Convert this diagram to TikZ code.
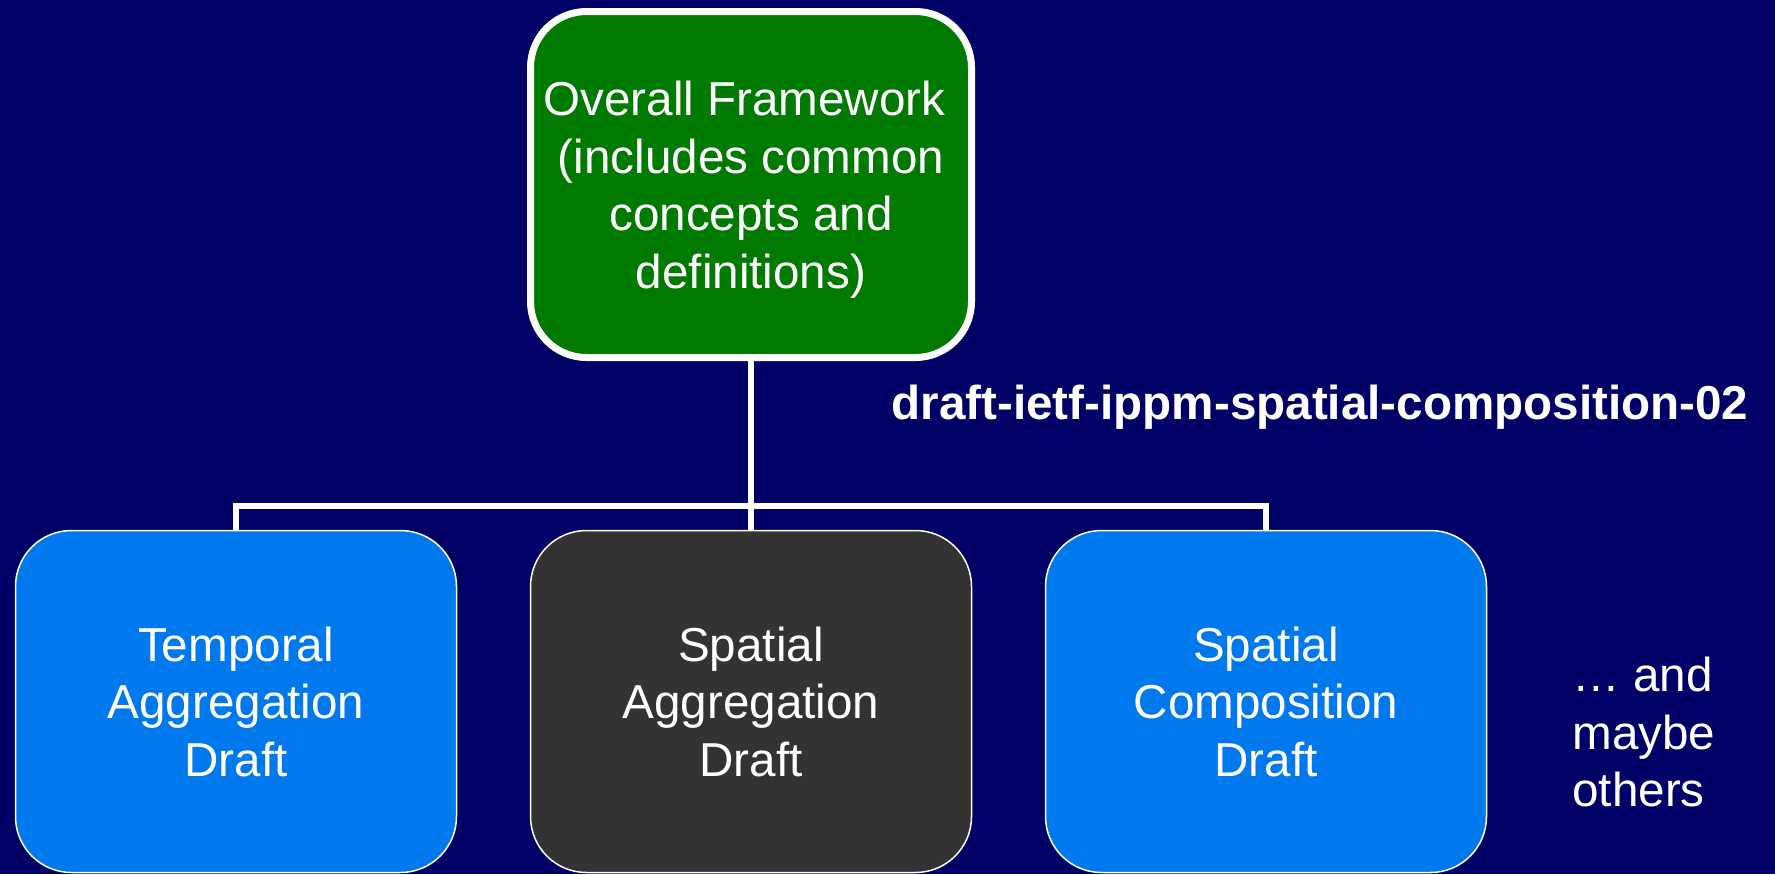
\documentclass[tikz,border=0pt]{standalone}
\usepackage{fontspec}
\setmainfont{Liberation Sans}
\definecolor{slidebg}{RGB}{0,0,102}
\definecolor{framegreen}{RGB}{0,122,0}
\definecolor{draftblue}{RGB}{0,121,239}
\definecolor{draftgrey}{RGB}{51,51,51}

\begin{document}
\begin{tikzpicture}[x=0.5pt, y=-0.5pt,
	draft/.style={rounded corners=28pt, draw=white, line width=0.75pt, minimum width=220.5pt, minimum height=171pt, inner sep=0pt, text=white, align=center, font=\fontsize{23.8pt}{28.75pt}\selectfont},
	link/.style={draw=white, line width=3pt}]
	\fill[slidebg] (0, 0) rectangle (1775, 874);
	\useasboundingbox (0, 0) rectangle (1775, 874);

	\node[draft, fill=framegreen, line width=3.5pt, minimum height=173pt, text depth=0pt] (frame) at (751, 184.5) {Overall Framework\ \mbox{}\\(includes common\\concepts and\\definitions)};

	\node[draft, fill=draftblue] (temporal) at (236, 701.5) {Temporal\\Aggregation\\Draft};
	\node[draft, fill=draftgrey] (spagg) at (751, 701.5) {Spatial\\Aggregation\\Draft};
	\node[draft, fill=draftblue] (spcomp) at (1266, 701.5) {Spatial\\Composition\\Draft};

	\node[anchor=base, inner sep=0pt, text=white, font=\fontsize{23.8pt}{28.75pt}\selectfont\bfseries] (draftname) at (1320, 419) {draft-ietf-ippm-spatial-composition-02};
	\node[anchor=west, inner sep=0pt, text=white, align=left, font=\fontsize{23.8pt}{28.75pt}\selectfont] (others) at (1572, 732) {… and\\maybe\\others};

	\coordinate (bus) at (751, 506);
	\draw[link] (frame.south) -- (bus) -| (temporal.north);
	\draw[link] (bus) -- (spagg.north);
	\draw[link] (bus) -| (spcomp.north);
\end{tikzpicture}
\end{document}
